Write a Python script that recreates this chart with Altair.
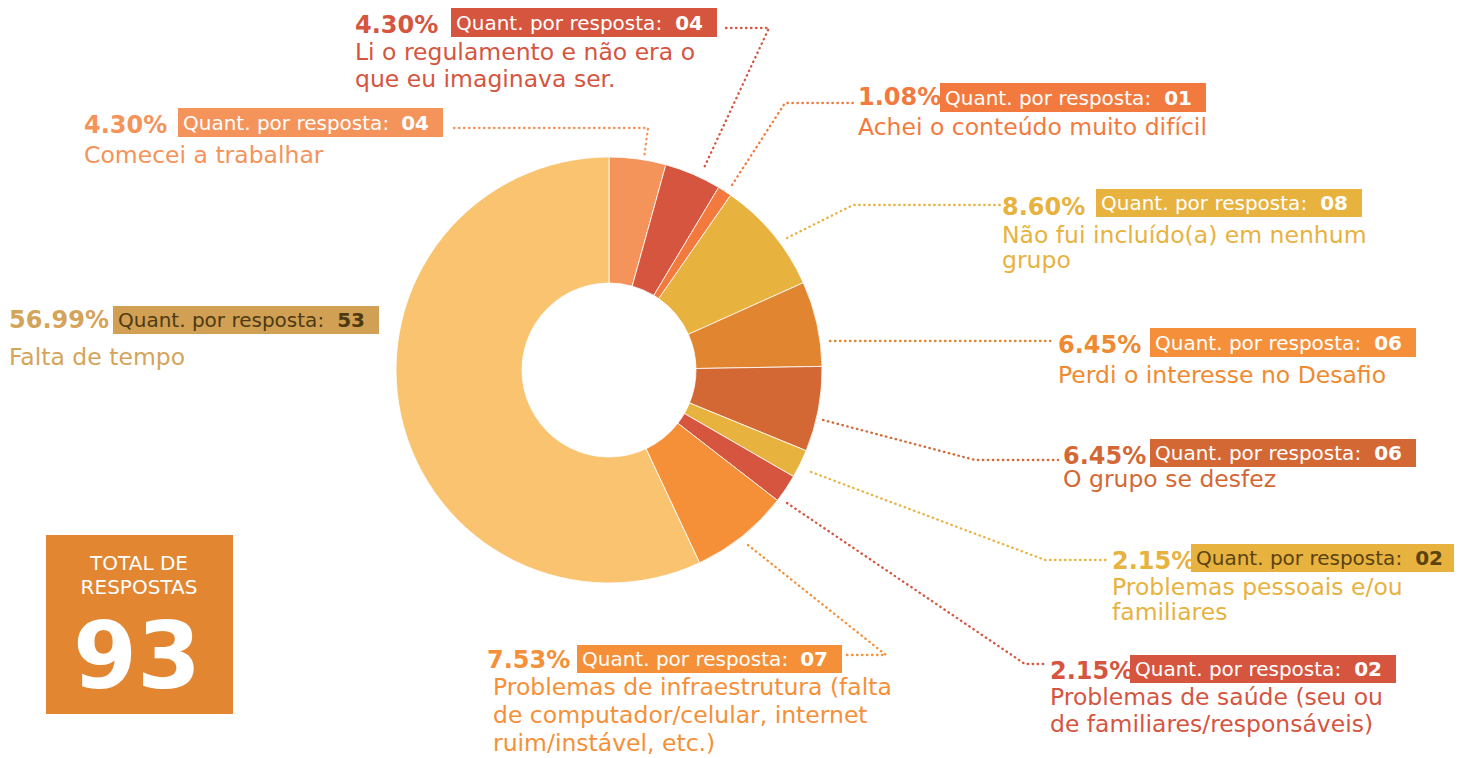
import altair as alt
import pandas as pd

# ---------------- data ----------------
categories = [
    "Comecei a trabalhar",
    "Li o regulamento e não era o que eu imaginava ser.",
    "Achei o conteúdo muito difícil",
    "Não fui incluído(a) em nenhum grupo",
    "Perdi o interesse no Desafio",
    "O grupo se desfez",
    "Problemas pessoais e/ou familiares",
    "Problemas de saúde (seu ou de familiares/responsáveis)",
    "Problemas de infraestrutura (falta de computador/celular, internet ruim/instável, etc.)",
    "Falta de tempo",
]
counts = [4, 4, 1, 8, 6, 6, 2, 2, 7, 53]
desc_lines = [
    ["Comecei a trabalhar"],
    ["Li o regulamento e não era o", "que eu imaginava ser."],
    ["Achei o conteúdo muito difícil"],
    ["Não fui incluído(a) em nenhum", "grupo"],
    ["Perdi o interesse no Desafio"],
    ["O grupo se desfez"],
    ["Problemas pessoais e/ou", "familiares"],
    ["Problemas de saúde (seu ou", "de familiares/responsáveis)"],
    ["Problemas de infraestrutura (falta", "de computador/celular, internet", "ruim/instável, etc.)"],
    ["Falta de tempo"],
]
badge_prefix = ["Quant. por resposta: "] * 9 + ["Quant. por resposta:"]
total_label = ["TOTAL DE", "RESPOSTAS"]

# ---------------- styles ----------------
slice_colors = ["#F4935A", "#D5553F", "#F37A3E", "#E8B23F", "#E18530",
                "#D46835", "#E8B23F", "#D5553F", "#F59039", "#F9C36F"]
text_colors = ["#F4935A", "#D5553F", "#F37A3E", "#E8B23F", "#F08A30",
               "#D46835", "#E8B23F", "#D5553F", "#F59039", "#D4A45A"]
badge_colors = ["#F4935A", "#D5553F", "#F37A3E", "#E8B23F", "#F58F3A",
                "#D46835", "#E8B23F", "#D5553F", "#F59039", "#D1A055"]
badge_text_colors = ["#FFFFFF"] * 6 + ["#5A4213", "#FFFFFF", "#FFFFFF", "#4E3A12"]
box_color = "#E28631"
FONT = "DejaVu Sans"

# ---------------- layout (page pixel coordinates) ----------------
pct_pos = [(84, 133), (355, 33), (858, 105), (1002, 215), (1058, 353),
           (1063, 464), (1112, 569), (1050, 679), (487, 668), (9, 328)]
badge_box = [(178, 108, 443, 137), (451, 8, 717, 37), (940, 83, 1206, 112),
             (1096, 189, 1362, 217), (1150, 328, 1416, 357), (1150, 439, 1416, 467),
             (1191, 544, 1457, 572), (1130, 655, 1396, 683), (577, 645, 842, 673),
             (113, 306, 379, 334)]
desc_pos = [(84, 163), (355, 60), (858, 135), (1002, 243), (1058, 383),
            (1063, 487), (1112, 595), (1050, 705), (493, 695), (9, 365)]
line_h = [27, 27, 27, 25, 27, 27, 25, 27, 28, 27]
leaders = [
    [(454, 128), (648, 128), (644, 158)],
    [(726, 28), (769, 28), (703, 170)],
    [(732, 185), (785, 103), (855, 103)],
    [(787, 238), (853, 205), (1000, 205)],
    [(830, 341), (1055, 341)],
    [(823, 420), (975, 460), (1058, 460)],
    [(811, 472), (1045, 560), (1108, 560)],
    [(787, 503), (1025, 664), (1045, 664)],
    [(748, 545), (886, 655), (847, 655)],
]
center = (609, 370)
r_out, r_in = 213, 87
total_box = (46, 535, 233, 714)

W, H = 1446, 750
xs = alt.Scale(domain=[8, 8 + W], range=[0, W], nice=False, zero=False)
ys = alt.Scale(domain=[8, 8 + H], range=[0, H], nice=False, zero=False)


def X(f):
    return alt.X(f, type="quantitative", scale=xs, axis=None)


def Y(f):
    return alt.Y(f, type="quantitative", scale=ys, axis=None)


total = sum(counts)

# ---------------- tables ----------------
slices = pd.DataFrame({"idx": range(len(categories)), "cat": categories,
                       "count": counts, "col": slice_colors})

rows = []
for i, c in enumerate(counts):
    rows.append({
        "pct": f"{c / total * 100:.2f}%",
        "num": f"{c:02d}",
        "prefix": badge_prefix[i],
        "px": pct_pos[i][0], "py": pct_pos[i][1],
        "bx1": badge_box[i][0], "by1": badge_box[i][1],
        "bx2": badge_box[i][2], "by2": badge_box[i][3],
        "tx": badge_box[i][0] + 5, "ty": badge_box[i][3] - 7,
        "nx": badge_box[i][2] - 14,
        "tcol": text_colors[i], "bcol": badge_colors[i], "btcol": badge_text_colors[i],
    })
labels = pd.DataFrame(rows)

drows = []
for i, lines in enumerate(desc_lines):
    for j, ln in enumerate(lines):
        drows.append({"t": ln, "x": desc_pos[i][0], "y": desc_pos[i][1] + j * line_h[i],
                      "tcol": text_colors[i]})
descs = pd.DataFrame(drows)

lrows = []
for i, pts in enumerate(leaders):
    for k, (x, y) in enumerate(pts):
        lrows.append({"lid": i, "ord": k, "x": x, "y": y, "col": slice_colors[i]})
lead = pd.DataFrame(lrows)

box = pd.DataFrame([{"x1": total_box[0], "y1": total_box[1], "x2": total_box[2],
                     "y2": total_box[3], "col": box_color}])
box_text = pd.DataFrame({"t": total_label, "x": [139, 139], "y": [570, 594]})
box_num = pd.DataFrame({"t": [str(total)], "x": [137], "y": [688]})

# ---------------- layers ----------------
donut = alt.Chart(slices).mark_arc(
    innerRadius=r_in, outerRadius=r_out, stroke="white", strokeWidth=0.8
).encode(
    theta=alt.Theta("count:Q", stack=True),
    order=alt.Order("idx:Q"),
    color=alt.Color("col:N", scale=None),
    x=alt.value(center[0] - 8),
    y=alt.value(center[1] - 8),
    tooltip=["cat:N", "count:Q"],
)

leader_lines = alt.Chart(lead).mark_line(
    strokeDash=[0.5, 4.5], strokeCap="round", strokeWidth=2.3
).encode(
    x=X("x"), y=Y("y"), detail="lid:N", order="ord:Q",
    color=alt.Color("col:N", scale=None),
)

badges = alt.Chart(labels).mark_rect().encode(
    x=X("bx1"), x2="bx2", y=Y("by1"), y2="by2",
    color=alt.Color("bcol:N", scale=None),
)

pct_text = alt.Chart(labels).mark_text(
    font=FONT, fontSize=24, fontWeight="bold", align="left", baseline="alphabetic"
).encode(x=X("px"), y=Y("py"), text="pct:N", color=alt.Color("tcol:N", scale=None))

badge_text = alt.Chart(labels).mark_text(
    font=FONT, fontSize=20, align="left", baseline="alphabetic"
).encode(x=X("tx"), y=Y("ty"), text="prefix:N", color=alt.Color("btcol:N", scale=None))

badge_num = alt.Chart(labels).mark_text(
    font=FONT, fontSize=20, fontWeight="bold", align="right", baseline="alphabetic"
).encode(x=X("nx"), y=Y("ty"), text="num:N", color=alt.Color("btcol:N", scale=None))

desc_text = alt.Chart(descs).mark_text(
    font=FONT, fontSize=23.5, align="left", baseline="alphabetic"
).encode(x=X("x"), y=Y("y"), text="t:N", color=alt.Color("tcol:N", scale=None))

total_rect = alt.Chart(box).mark_rect().encode(
    x=X("x1"), x2="x2", y=Y("y1"), y2="y2", color=alt.Color("col:N", scale=None)
)
total_lbl = alt.Chart(box_text).mark_text(
    font=FONT, fontSize=20, align="center", baseline="alphabetic", color="white"
).encode(x=X("x"), y=Y("y"), text="t:N")
total_num = alt.Chart(box_num).mark_text(
    font=FONT, fontSize=92, fontWeight="bold", align="center", baseline="alphabetic",
    color="white"
).encode(x=X("x"), y=Y("y"), text="t:N")

chart = alt.layer(
    leader_lines, donut, badges, pct_text, badge_text, badge_num, desc_text,
    total_rect, total_lbl, total_num
).properties(
    width=W, height=H, padding=0, autosize=alt.AutoSizeParams(type="none"),
    background="white"
).configure_view(stroke=None)

chart.save("out.html", embed_options={"renderer": "svg", "actions": False})
